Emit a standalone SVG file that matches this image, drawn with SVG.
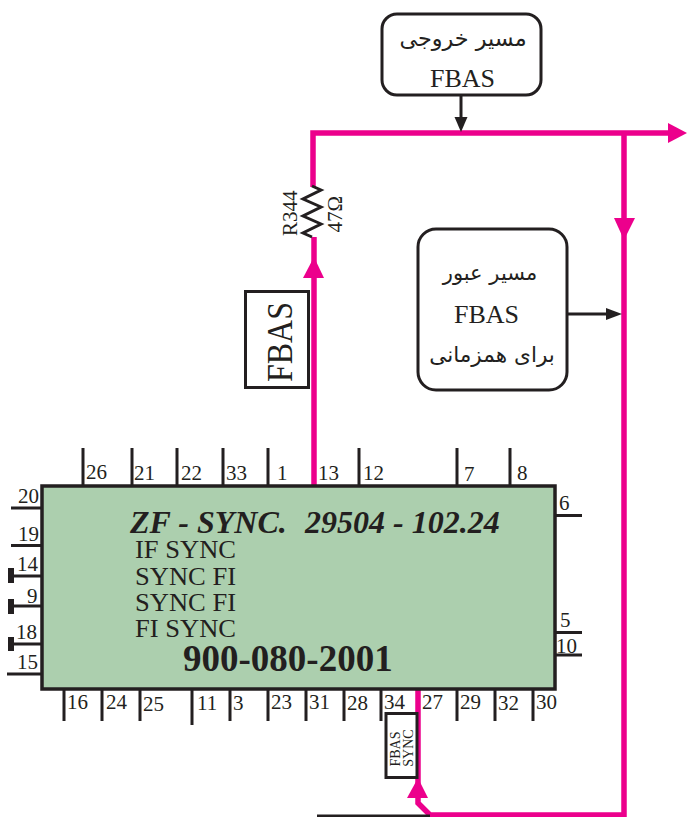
<svg xmlns="http://www.w3.org/2000/svg" width="687" height="817" viewBox="0 0 687 817">
<style>
text{font-family:"Liberation Serif","Times New Roman",serif;fill:#231f20}
.n{font-size:21px}
.l{font-size:25px}
.f{font-size:26px;text-anchor:middle}
.fa{font-family:"DejaVu Sans",sans-serif;font-size:21px;text-anchor:middle}
.t{font-size:32px;font-weight:bold;font-style:italic}
.r{font-size:21px}
.s{font-size:14px;text-anchor:middle}
.box{fill:#fff;stroke:#231f20;stroke-width:3}
.pin{stroke:#231f20;stroke-width:3;fill:none}
.mag{stroke:#ec008c;stroke-width:5.500;fill:none}
.mh{fill:#ec008c}
.bh{fill:#231f20}
</style>
<g id="connectors">
<path class="mag" d="M313 187V133H670"/>
<path class="mag" d="M314 237V486"/>
<path class="mag" d="M624 133V815H430L418 803V689"/>
<path class="mh" d="M687 133L668 123V143Z"/>
<path class="mh" d="M314 257L303 278H324Z"/>
<path class="mh" d="M624 240L614 218H635Z"/>
<path class="mh" d="M418 778L407 798H428Z"/>
<path class="pin" d="M461 95V120"/>
<path class="bh" d="M461 132L454.500 117H467.500Z"/>
<path class="pin" d="M566 314H608"/>
<path class="bh" d="M622 314L606 308V320Z"/>
<path class="pin" d="M317 816H430"/>
</g>
<g id="resistor">
<path class="pin" d="M312 186L321 190L303 199L321 207L303 216L321 224L303 233L312 237"/>
<text class="r" transform="translate(297,236) rotate(-90)">R344</text>
<text class="r" transform="translate(342,232.500) rotate(-90)">47Ω</text>
</g>
<g id="ic-pins">
<path class="pin" d="M83 448V486M132 448V486M177 448V486M223 448V486M268 448V486M359 448V486M457 448V486M510 448V486"/>
<path class="pin" d="M11 508H42M11 545.500H42M10 576H42M10 606H42M10 644H42M7 674H42"/>
<path class="pin" d="M64 689V721M102 689V721M140 689V721M192 689V725M230 689V721M268 689V721M306 689V721M344 689V721M381 689V721M457 689V721M495 689V721M533 689V721"/>
<path class="pin" d="M555 515.500H582M555 632.500H582M555 655H582"/>
<path class="bh" d="M8 568H14V583H8ZM8 599H14V614H8ZM8 637H14V651H8Z"/>
</g>
<g id="ic">
<rect x="42" y="486" width="513" height="203" fill="#accfae" stroke="#231f20" stroke-width="3.500"/>
<text class="t" x="130" y="533">ZF - SYNC.</text>
<text class="t" x="305" y="533">29504 - 102.24</text>
<text class="l" x="135" y="558" textLength="101" lengthAdjust="spacingAndGlyphs">IF SYNC</text>
<text class="l" x="135" y="585" textLength="101" lengthAdjust="spacingAndGlyphs">SYNC FI</text>
<text class="l" x="135" y="611" textLength="101" lengthAdjust="spacingAndGlyphs">SYNC FI</text>
<text class="l" x="135" y="637" textLength="101" lengthAdjust="spacingAndGlyphs">FI SYNC</text>
<text x="183" y="671" style="font-size:37px;font-weight:bold">900-080-2001</text>
<text class="n" x="86" y="479">26</text><text class="n" x="134" y="480">21</text><text class="n" x="181" y="480">22</text><text class="n" x="226" y="480">33</text><text class="n" x="277" y="480">1</text><text class="n" x="318" y="480">13</text><text class="n" x="363" y="480">12</text><text class="n" x="464" y="481">7</text><text class="n" x="517" y="480">8</text>
<text class="n" x="18" y="503">20</text><text class="n" x="18" y="541">19</text><text class="n" x="17" y="571">14</text><text class="n" x="27" y="603">9</text><text class="n" x="16" y="639">18</text><text class="n" x="17" y="669">15</text>
<text class="n" x="67" y="709">16</text><text class="n" x="106" y="709">24</text><text class="n" x="143" y="711">25</text><text class="n" x="197" y="710">11</text><text class="n" x="233" y="710">3</text><text class="n" x="271" y="709">23</text><text class="n" x="309" y="709">31</text><text class="n" x="347" y="710">28</text><text class="n" x="384" y="709">34</text><text class="n" x="422" y="709">27</text><text class="n" x="460" y="709">29</text><text class="n" x="498" y="710">32</text><text class="n" x="536" y="709">30</text>
<text class="n" x="559" y="510">6</text><text class="n" x="560" y="627">5</text><text class="n" x="556" y="653">10</text>
</g>
<g id="fbas-sync"><rect class="box" x="386" y="713.500" width="31" height="64"/>
<text class="s" transform="translate(400,749) rotate(-90)">FBAS</text>
<text class="s" transform="translate(413,748) rotate(-90)">SYNC</text></g>
<g id="out-path"><rect class="box" x="382" y="14" width="159" height="81" rx="15"/>
<text class="fa" x="463" y="46" direction="rtl" style="font-size:22.300px">مسیر خروجی</text>
<text class="f" x="462.500" y="87">FBAS</text></g>
<g id="pass-path"><rect class="box" x="418" y="229" width="149" height="161" rx="18"/>
<text class="fa" x="490" y="280" direction="rtl">مسیر عبور</text>
<text class="f" x="486.500" y="323">FBAS</text>
<text class="fa" x="492" y="362" direction="rtl" style="font-size:21.600px">برای همزمانی</text></g>
<g id="fbas"><rect class="box" x="245.500" y="291.500" width="63" height="96"/>
<text transform="translate(292,382) rotate(-90)" textLength="80" lengthAdjust="spacingAndGlyphs" style="font-size:35px">FBAS</text></g>
</svg>
